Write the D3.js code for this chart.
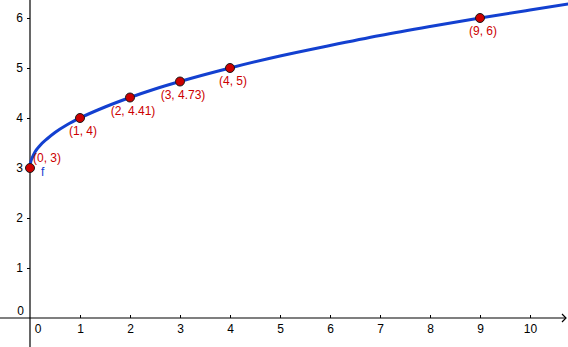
<!DOCTYPE html>
<html>
<head>
<meta charset="utf-8">
<script src="https://cdn.jsdelivr.net/npm/d3@7"></script>
<style>
  body { margin: 0; background: #fff; }
  svg { display: block; }
  text { font-family: "Liberation Sans", Arial, sans-serif; }
</style>
</head>
<body>
<svg width="568" height="347"></svg>
<script>
// curve f
var curveX = [0, 0.005, 0.02, 0.05, 0.1, 0.2, 0.35, 0.5, 0.75, 1, 1.5, 2, 2.5, 3, 4, 5, 6, 7, 8, 9, 10, 10.9];
var curveY = [3, 3.07, 3.14, 3.22, 3.32, 3.45, 3.59, 3.71, 3.87, 4, 4.22, 4.41, 4.58, 4.73, 5, 5.24, 5.45, 5.65, 5.83, 6, 6.16, 6.3];

// marked points
var pointX = [0, 1, 2, 3, 4, 9];
var pointY = [3, 4, 4.41, 4.73, 5, 6];
var pointLabels = ["(0, 3)", "(1, 4)", "(2, 4.41)", "(3, 4.73)", "(4, 5)", "(9, 6)"];

var xTicks = [1, 2, 3, 4, 5, 6, 7, 8, 9, 10];
var yTicks = [1, 2, 3, 4, 5, 6];

var svg = d3.select("svg"),
    width = +svg.attr("width"),
    height = +svg.attr("height");

var x = d3.scaleLinear().domain([0, 10]).range([30, 530]);
var y = d3.scaleLinear().domain([0, 6]).range([318, 18]);

var curveBlue = "#1340d0", red = "#cc0000";

// axes lines
svg.append("line")
    .attr("x1", 0).attr("x2", width - 2)
    .attr("y1", y(0)).attr("y2", y(0))
    .attr("stroke", "#000").attr("stroke-width", 1.2);
svg.append("path")
    .attr("d", "M" + (width - 6) + "," + (y(0) - 4) + "L" + (width - 2) + "," + y(0) + "L" + (width - 6) + "," + (y(0) + 4))
    .attr("fill", "none").attr("stroke", "#000").attr("stroke-width", 1.2);
svg.append("line")
    .attr("x1", x(0)).attr("x2", x(0))
    .attr("y1", 0).attr("y2", height)
    .attr("stroke", "#000").attr("stroke-width", 1.2);

var gx = svg.append("g")
    .attr("transform", "translate(0," + y(0) + ")")
    .call(d3.axisBottom(x).tickValues(xTicks).tickFormat(d3.format("d")).tickSize(-3).tickPadding(6));
var gy = svg.append("g")
    .attr("transform", "translate(" + x(0) + ",0)")
    .call(d3.axisLeft(y).tickValues(yTicks).tickFormat(d3.format("d")).tickSize(3).tickPadding(4));

[gx, gy].forEach(function(g) {
    g.select(".domain").remove();
    g.selectAll("line").attr("stroke", "#000");
    g.selectAll("text").attr("fill", "#000").style("font-size", "12px")
        .style("font-family", "'Liberation Sans', Arial, sans-serif");
});

// the two zero labels
svg.append("text").attr("x", x(0) + 8).attr("y", y(0) + 15)
    .attr("text-anchor", "middle").style("font-size", "12px").text("0");
svg.append("text").attr("x", x(0) - 6).attr("y", y(0) - 3)
    .attr("text-anchor", "end").style("font-size", "12px").text("0");

// curve
var line = d3.line()
    .x(function(d, i) { return x(curveX[i]); })
    .y(function(d, i) { return y(curveY[i]); })
    .curve(d3.curveMonotoneX);

svg.append("path")
    .datum(curveX)
    .attr("d", line)
    .attr("fill", "none")
    .attr("stroke", curveBlue)
    .attr("stroke-width", 3);

svg.append("text")
    .attr("x", x(0) + 11).attr("y", y(3) + 8)
    .attr("fill", curveBlue).style("font-size", "12px").text("f");

// points
svg.selectAll(".pt")
    .data(pointX)
    .enter().append("circle")
    .attr("class", "pt")
    .attr("cx", function(d) { return x(d); })
    .attr("cy", function(d, i) { return y(pointY[i]); })
    .attr("r", 4.5)
    .attr("fill", red)
    .attr("stroke", "#1a1a1a")
    .attr("stroke-width", 1);

svg.selectAll(".lbl")
    .data(pointX)
    .enter().append("text")
    .attr("class", "lbl")
    .attr("x", function(d) { return x(d) + 3; })
    .attr("y", function(d, i) { return i == 0 ? y(pointY[i]) - 6 : y(pointY[i]) + 17; })
    .attr("text-anchor", function(d, i) { return i == 0 ? "start" : "middle"; })
    .attr("fill", red)
    .style("font-size", "12px")
    .text(function(d, i) { return pointLabels[i]; });
</script>
</body>
</html>
